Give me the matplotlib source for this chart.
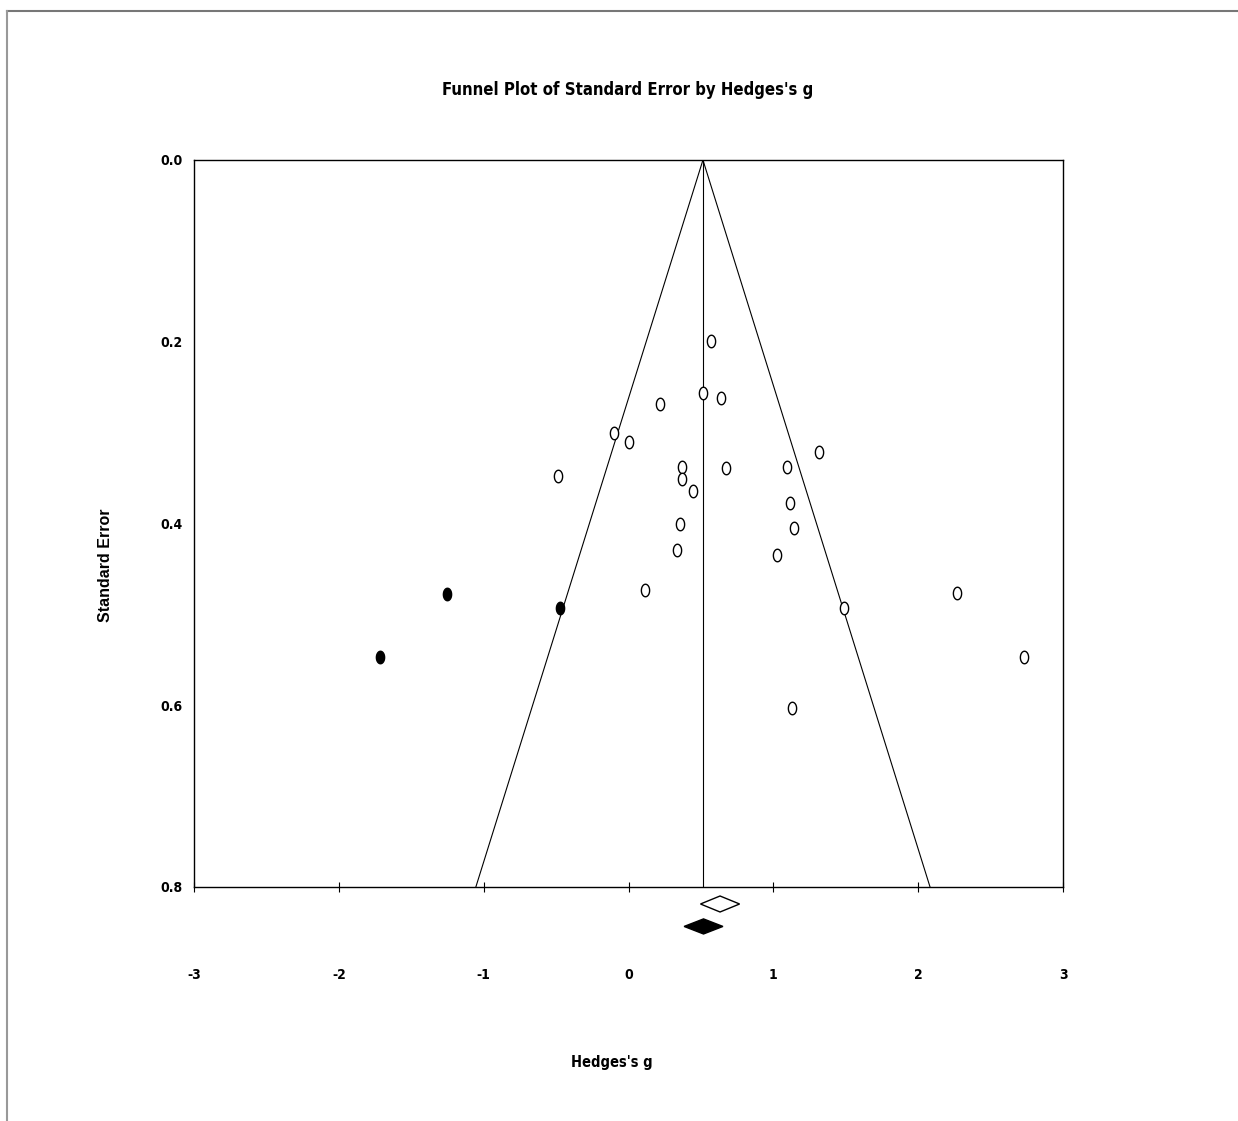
import matplotlib
matplotlib.use("Agg")
import matplotlib.pyplot as plt
from matplotlib.path import Path
from matplotlib.lines import Line2D
from matplotlib import font_manager
import numpy as np

# Observed studies (Hedges's g, standard error)
obs_g = [0.569, 0.514, 0.639, 0.217, -0.100, 0.000, -0.487, 0.369, 0.369, 0.445,
         0.673, 1.094, 1.315, 1.115, 1.143, 0.356, 0.337, 1.028, 0.116, 1.490,
         2.266, 2.733, 1.127]
obs_se = [0.199, 0.256, 0.262, 0.268, 0.300, 0.310, 0.348, 0.338, 0.351, 0.364,
          0.339, 0.338, 0.321, 0.377, 0.405, 0.400, 0.429, 0.435, 0.473, 0.493,
          0.477, 0.547, 0.603]
# Imputed studies (trim and fill)
imp_g = [-1.253, -0.473, -1.716]
imp_se = [0.478, 0.493, 0.547]

# Summary estimates: (point, lower, upper)
observed_est = (0.632, 0.497, 0.767)
adjusted_est = (0.518, 0.384, 0.652)
funnel_center = 0.514

x_ticks = [-3, -2, -1, 0, 1, 2, 3]
y_ticks = [0.0, 0.2, 0.4, 0.6, 0.8]

# pick a condensed bold face if one is installed
cond_fp = None
for f in font_manager.fontManager.ttflist:
    if f.name == 'Liberation Sans Narrow' and f.weight in (700, 'bold'):
        cond_fp = f.fname
if cond_fp is None:
    for f in font_manager.fontManager.ttflist:
        if f.name == 'DejaVu Sans' and 'condensed' in str(f.stretch).lower() and f.weight in (700, 'bold') and f.style == 'normal':
            cond_fp = f.fname
if cond_fp is not None:
    narrow_kw = dict(fontproperties=font_manager.FontProperties(fname=cond_fp))
else:
    narrow_kw = dict(family=['Liberation Sans', 'DejaVu Sans'], fontweight='bold')
regular = ['Liberation Sans', 'DejaVu Sans']

fig = plt.figure(figsize=(12.38, 11.21), dpi=100)
W, H = 1238, 1121
ax = fig.add_axes([194 / W, 1 - 887 / H, (1063 - 194) / W, (887 - 160) / H])

ax.set_xlim(-3, 3)
ax.set_ylim(0.8, 0.0)

# funnel
se_max = 0.8
ax.plot([funnel_center - 1.96 * se_max, funnel_center, funnel_center + 1.96 * se_max],
        [se_max, 0, se_max], color='black', lw=0.8)
ax.plot([funnel_center, funnel_center], [0, se_max], color='black', lw=0.8)

# elliptical marker
t = np.linspace(0, 2 * np.pi, 60)
verts = np.column_stack([0.66 * np.cos(t), np.sin(t)])
ell = Path(verts, closed=True)

ax.plot(obs_g, obs_se, linestyle='none', marker=ell, markersize=9,
        markerfacecolor='white', markeredgecolor='black', markeredgewidth=1.0, zorder=3)
ax.plot(imp_g, imp_se, linestyle='none', marker=ell, markersize=9,
        markerfacecolor='black', markeredgecolor='black', markeredgewidth=1.0, zorder=4)

# diamonds below axis
def diamond(est, yc, hh, filled):
    p, lo, hi = est
    xs = [lo, p, hi, p, lo]
    ys = [yc, yc - hh, yc, yc + hh, yc]
    ax.fill(xs, ys, facecolor='black' if filled else 'white', edgecolor='black',
            lw=1.0, clip_on=False, zorder=5)

diamond(observed_est, 0.8187, 0.0088, False)
diamond(adjusted_est, 0.8434, 0.0083, True)

for s in ax.spines.values():
    s.set_linewidth(1.0)

ax.set_xticks(x_ticks)
ax.set_xticklabels([str(v) for v in x_ticks])
ax.set_yticks(y_ticks)
ax.set_yticklabels([f"{v:.1f}" for v in y_ticks])
ax.tick_params(axis='x', direction='inout', length=7, width=0.8, pad=55)
ax.tick_params(axis='y', length=0, pad=8)
for lab in ax.get_xticklabels() + ax.get_yticklabels():
    if 'fontproperties' in narrow_kw:
        lab.set_fontproperties(narrow_kw['fontproperties'])
    else:
        lab.set_family(narrow_kw['family'])
        lab.set_fontweight('bold')
    lab.set_fontsize(10)

fig.text(628 / W, 1 - 90 / H, "Funnel Plot of Standard Error by Hedges's g",
         ha='center', va='center', fontsize=12, **narrow_kw)
fig.text(612 / W, 1 - 1062 / H, "Hedges's g", ha='center', va='center',
         fontsize=10.5, **narrow_kw)
fig.text(106 / W, 1 - 565 / H, "Standard Error", ha='center', va='center',
         rotation=90, family=regular, fontweight='bold', fontsize=11.5)

# outer frame
fig.add_artist(Line2D([7 / W, 1], [1 - 11 / H, 1 - 11 / H], color='#777777', lw=1.5,
                      transform=fig.transFigure))
fig.add_artist(Line2D([7 / W, 7 / W], [1 - 11 / H, 0], color='#999999', lw=1.5,
                      transform=fig.transFigure))

fig.savefig("out.png", dpi=100, facecolor='white')
